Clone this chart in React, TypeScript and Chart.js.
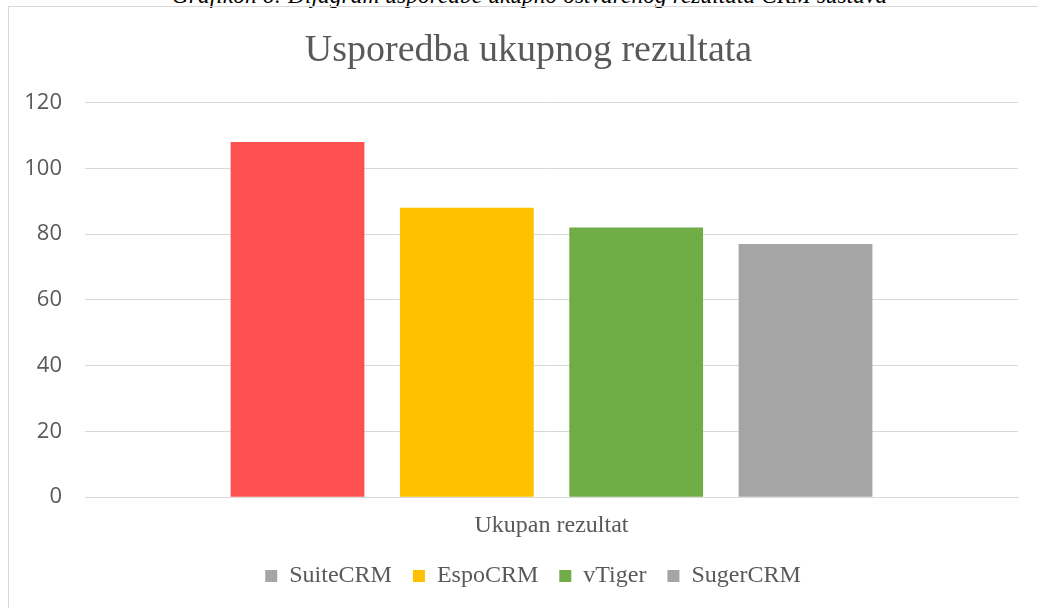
import React, { useEffect, useRef } from "react";
import { Chart, registerables } from "chart.js";

Chart.register(...registerables);

const categories = ["Ukupan rezultat"];
const seriesNames = ["SuiteCRM", "EspoCRM", "vTiger", "SugerCRM"];
const seriesValues = [[108], [88], [82], [77]];
const seriesColors = ["#FF5050", "#FFC000", "#70AD47", "#A5A5A5"];
const legendSwatchColors = ["#A5A5A5", "#FFC000", "#70AD47", "#A5A5A5"];
const yTicks = [0, 20, 40, 60, 80, 100, 120];
const chartTitle = "Usporedba ukupnog rezultata";
const caption = "Grafikon 6: Dijagram usporedbe ukupno ostvarenog rezultata CRM sustava";

const SERIF = "'Liberation Serif', 'Times New Roman', serif";
const SANS = "'Open Sans', 'Noto Sans', sans-serif";
const TEXT = "#595959";
const GRID = "#D9D9D9";

const shiftPlugin = {
  id: "shiftBoxes",
  afterLayout(chart: any) {
    const lg = chart.legend;
    if (lg) {
      lg.left += 19.5;
      lg.right += 19.5;
      lg.top -= 11;
      lg.bottom -= 11;
    }
    const tb = chart.titleBlock;
    if (tb) {
      tb.left += 15;
      tb.right += 15;
    }
  },
};

export default function App() {
  const ref = useRef<HTMLCanvasElement | null>(null);
  useEffect(() => {
    if (!ref.current) return;
    const chart = new Chart(ref.current, {
      type: "bar",
      data: {
        labels: categories,
        datasets: seriesNames.map((name, i) => ({
          label: name,
          data: seriesValues[i],
          backgroundColor: seriesColors[i],
          borderWidth: 0,
          categoryPercentage: 0.726,
          barPercentage: 0.79,
        })),
      },
      plugins: [shiftPlugin],
      options: {
        animation: false,
        responsive: false,
        layout: { padding: { left: 0, right: 20, top: 0, bottom: -1 } },
        plugins: {
          tooltip: { enabled: false },
          title: {
            display: true,
            text: chartTitle,
            color: TEXT,
            font: { family: SERIF, size: 38, weight: "normal" },
            padding: { top: 21, bottom: 29 },
          },
          legend: {
            position: "bottom",
            labels: {
              color: TEXT,
              font: { family: SERIF, size: 24 },
              boxWidth: 12,
              boxHeight: 12,
              padding: 21,
              generateLabels: (c: any) =>
                c.data.datasets.map((ds: any, i: number) => ({
                  text: ds.label,
                  fillStyle: legendSwatchColors[i],
                  strokeStyle: legendSwatchColors[i],
                  lineWidth: 0,
                  hidden: false,
                  datasetIndex: i,
                  fontColor: TEXT,
                })),
            },
          },
        },
        scales: {
          x: {
            grid: { display: false, drawTicks: false },
            border: { display: true, color: GRID, width: 1 },
            ticks: {
              color: TEXT,
              font: { family: SERIF, size: 24 },
              padding: 14,
            },
          },
          y: {
            min: 0,
            max: 120,
            afterBuildTicks: (s: any) => {
              s.ticks = yTicks.map((v) => ({ value: v }));
            },
            afterFit: (s: any) => {
              s.width = 76;
            },
            grid: { color: GRID, lineWidth: 1, drawTicks: false },
            border: { display: false },
            ticks: {
              color: TEXT,
              font: { family: SANS, size: 22 },
              padding: 23,
            },
          },
        },
      },
    });
    return () => chart.destroy();
  }, []);

  return (
    <div>
      <div
        style={{
          position: "absolute",
          left: 0,
          width: 1038,
          top: -17,
          lineHeight: "24px",
          textAlign: "center",
          fontFamily: SERIF,
          fontStyle: "italic",
          fontSize: 23.5,
          color: "#000",
          paddingLeft: 21,
          boxSizing: "border-box",
          whiteSpace: "nowrap",
        }}
      >
        {caption}
      </div>
      <div
        style={{
          position: "absolute",
          left: 8,
          top: 6,
          width: 1029,
          height: 601,
          borderTop: "1px solid " + GRID,
          borderLeft: "1px solid " + GRID,
          overflow: "hidden",
        }}
      >
        <canvas ref={ref} width={1029} height={601} style={{ display: "block" }} />
      </div>
    </div>
  );
}
